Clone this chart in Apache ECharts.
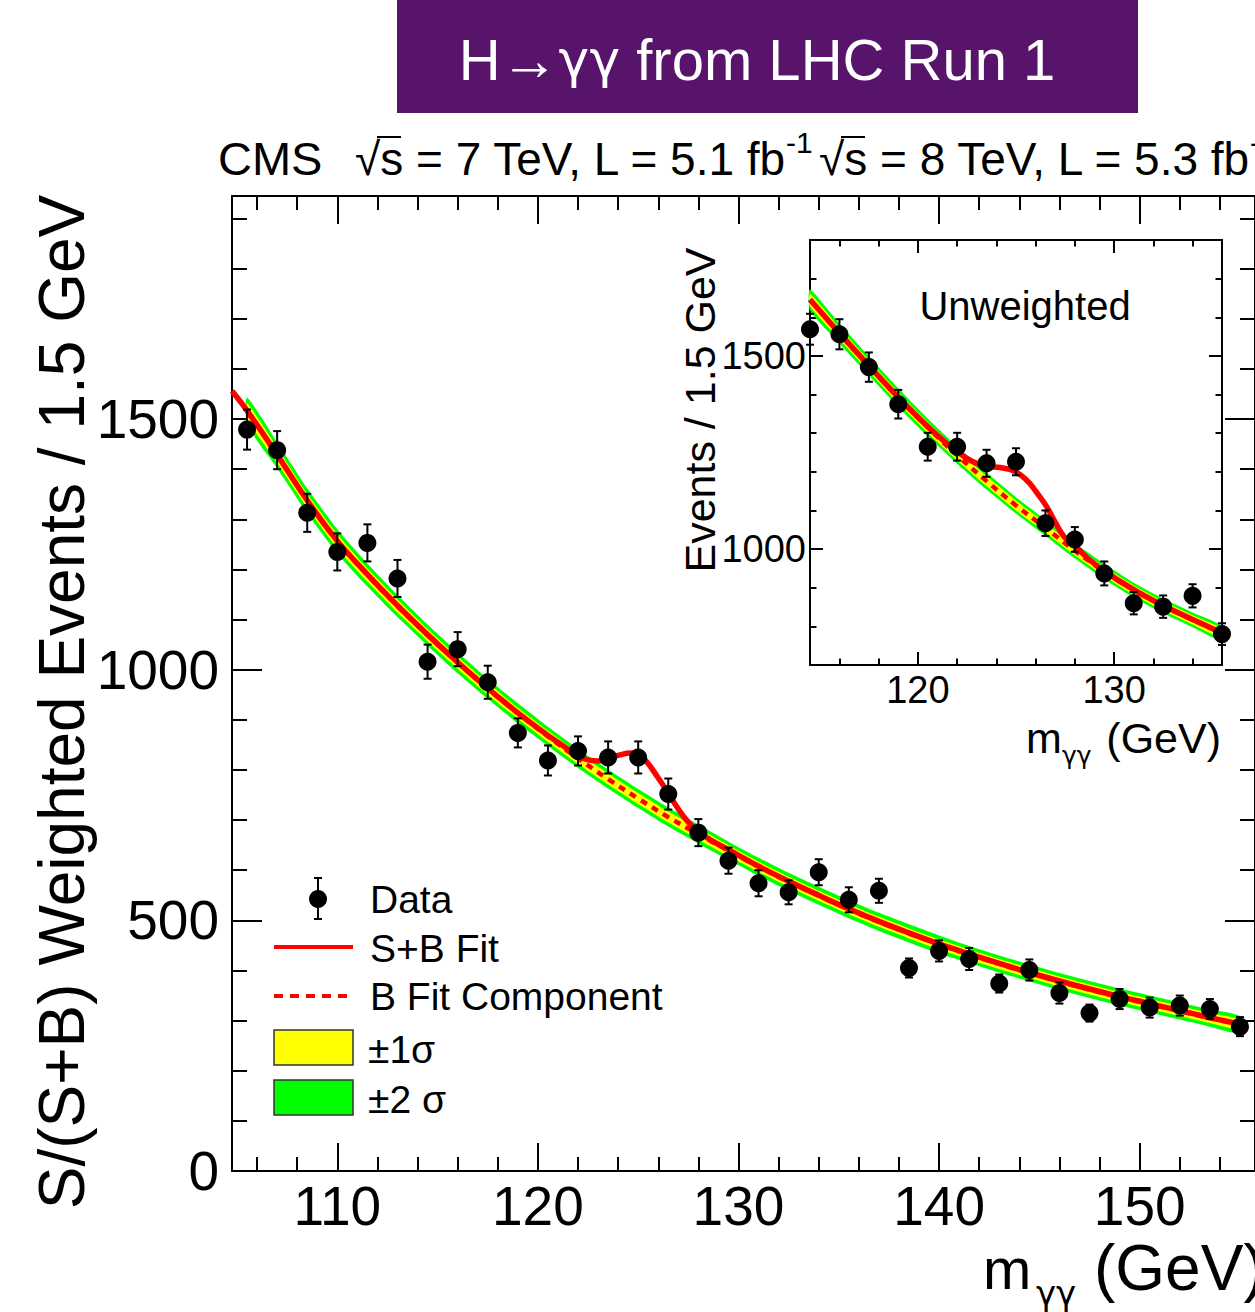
<!DOCTYPE html>
<html>
<head>
<meta charset="utf-8">
<script src="https://cdn.jsdelivr.net/npm/echarts@6/dist/echarts.min.js"></script>
<style>
html,body{margin:0;padding:0;background:#fff;overflow:hidden;}
#chart{width:1255px;height:1312px;}
</style>
</head>
<body>
<div id="chart"></div>
<script>
// ---------------- Main panel (S/(S+B) weighted) ----------------
const massBins = [105.5,107,108.5,110,111.5,113,114.5,116,117.5,119,120.5,122,123.5,125,126.5,128,129.5,131,132.5,134,135.5,137,138.5,140,141.5,143,144.5,146,147.5,149,150.5,152,153.5,155];
const weightedEvents = [1479,1438,1313,1235,1253,1182,1016,1041,975,874,819,838,825,825,752,675,619,574,556,596,541,559,405,439,423,374,401,355,315,343,326,330,323,288];
const weightedErrors = [40,38,38,37,37,37,34,34,33,29,30,29,32,32,31,27,26,26,24,26,25,24,19,21,22,18,21,21,17,20,20,20,20,19];
const bkgFit = [1516,1428,1337,1256,1189,1127,1069,1014,962,913,867,823,782,743,706,672,639,607,577,549,522,497,474,452,432,413,395,378,362,347,333,319,305,292];
const bkgSigma1 = [16,15,14,14,13,13,12,12,12,11,11,11,11,11,11,11,11,10,10,10,10,10,10,10,10,10,10,10,10,10,10,10,10,10];
const bkgSigma2 = [27,26,25,24,23,22,21,21,20,20,19,19,19,19,19,19,18,18,18,18,18,18,18,18,17,17,17,17,17,17,17,17,17,17];
const sbFitMass = [104.75,105.5,107,108.5,110,111.5,113,114.5,116,117.5,119,120.5,121.3,122,122.5,123,123.5,124.1,124.6,125,125.45,125.95,126.45,126.95,127.45,128,128.75,129.5,131,132.5,134,135.5,137,138.5,140,141.5,143,144.5,146,147.5,149,150.5,152,153.5,155];
const sbFitValues = [1556,1517,1429,1338,1257,1190,1128,1070,1015,963,914,869,847,828,820,818,823,830,834,832,815,787,757,725,698,677,657,641,608,578,550,523,498,475,453,433,414,396,379,363,348,334,320,306,293];

// ---------------- Inset (unweighted) ----------------
const insetBins = [114.5,116,117.5,119,120.5,122,123.5,125,126.5,128,129.5,131,132.5,134,135.5];
const unweightedEvents = [1569,1556,1471,1375,1265,1265,1222,1226,1067,1025,937,860,851,879,780];
const unweightedErrors = [40,39,38,37,36,36,35,35,33,32,31,29,29,30,28];
const insetBkgFit = [1645,1558,1474,1392,1315,1243,1176,1113,1055,996,942,894,853,817,782];
const insetSigma1 = [16,15,15,14,14,13,13,13,12,12,12,12,12,12,12];
const insetSigma2 = [27,26,25,24,23,22,22,21,21,20,20,19,19,19,19];
const insetSbMass = [114.5,116,117.5,119,120.5,121.5,122,122.5,123,123.5,124.2,124.7,125.24,125.7,126.09,126.56,126.94,127.45,128.05,128.64,129.5,131,132.5,134,135.5];
const insetSbValues = [1646,1559,1475,1393,1317,1272,1253,1235,1222,1215,1211,1206,1192,1170,1144,1110,1075,1032,1006,977,943,895,854,818,783];

// ---------------- Tick labels ----------------
const mainXTicks = [110,120,130,140,150];
const mainYTicks = [0,500,1000,1500];
const insetXTicks = [120,130];
const insetYTicks = [1000,1500];

const FONT = '"Liberation Sans", Arial, Helvetica, sans-serif';
const GREEK = '"DejaVu Sans", "Liberation Sans", sans-serif';

function zip(xs, ys) { return xs.map((x, i) => [x, ys[i]]); }
function errData(xs, ys, es) { return xs.map((x, i) => [x, ys[i], es[i]]); }

function bandSeries(xIdx, yIdx, xs, centre, sig, color, z) {
  return {
    type: 'custom', xAxisIndex: xIdx, yAxisIndex: yIdx, z: z, silent: true,
    data: [[xs[0], centre[0]]],
    encode: { x: 0, y: 1 },
    renderItem: function (params, api) {
      const up = xs.map((x, i) => api.coord([x, centre[i] + sig[i]]));
      const lo = xs.map((x, i) => api.coord([x, centre[i] - sig[i]])).reverse();
      return { type: 'polygon', shape: { points: up.concat(lo), smooth: 0.2 }, style: { fill: color, stroke: null } };
    }
  };
}

function errorSeries(xIdx, yIdx, data, cap, lw) {
  return {
    type: 'custom', xAxisIndex: xIdx, yAxisIndex: yIdx, z: 6, silent: true,
    data: data, encode: { x: 0, y: 1 },
    renderItem: function (params, api) {
      const x = api.value(0), y = api.value(1), e = api.value(2);
      const t = api.coord([x, y + e]), b = api.coord([x, y - e]);
      const st = { stroke: '#000', lineWidth: lw };
      return { type: 'group', children: [
        { type: 'line', shape: { x1: t[0], y1: t[1], x2: b[0], y2: b[1] }, style: st },
        { type: 'line', shape: { x1: t[0] - cap, y1: t[1], x2: t[0] + cap, y2: t[1] }, style: st },
        { type: 'line', shape: { x1: b[0] - cap, y1: b[1], x2: b[0] + cap, y2: b[1] }, style: st }
      ] };
    }
  };
}

function valueAxis(o) {
  return {
    type: 'value', gridIndex: o.grid, position: o.pos, min: o.min, max: o.max,
    minInterval: o.step, maxInterval: o.step, splitNumber: o.split,
    axisLine: { show: true, onZero: false, lineStyle: { color: '#000', width: 2 } },
    axisTick: { show: true, inside: true, length: o.tick, lineStyle: { color: '#000', width: 2 } },
    minorTick: { show: true, splitNumber: 5, length: o.minor, lineStyle: { color: '#000', width: 2 } },
    splitLine: { show: false }, minorSplitLine: { show: false },
    axisLabel: { show: !!o.labels, showMinLabel: !!o.showMin, showMaxLabel: false, margin: o.margin || 8,
      color: '#000', fontFamily: FONT, fontSize: o.fs || 12,
      formatter: function (v) { return o.labels && o.labels.indexOf(v) >= 0 ? String(v) : ''; } }
  };
}

function txt(x, y, text, size, extra) {
  const st = Object.assign({ text: text, fill: '#000', fontFamily: FONT, fontSize: size, align: 'left', verticalAlign: 'middle' }, extra || {});
  return { type: 'text', x: x, y: y, z: 10, style: st };
}

const chart = echarts.init(document.getElementById('chart'), null, { renderer: 'svg', width: 1255, height: 1312 });

const option = {
  backgroundColor: '#fff',
  animation: false,
  grid: [
    { left: 232, top: 196, width: 1030, height: 975, containLabel: false },
    { left: 810, top: 240, width: 412, height: 425, containLabel: false }
  ],
  xAxis: [
    valueAxis({ grid: 0, pos: 'bottom', min: 104.75, max: 155.75, step: 10, split: 5, tick: 28, minor: 14, labels: mainXTicks, fs: 55, margin: 7 }),
    valueAxis({ grid: 0, pos: 'top', min: 104.75, max: 155.75, step: 10, split: 5, tick: 28, minor: 14 }),
    valueAxis({ grid: 1, pos: 'bottom', min: 114.5, max: 135.5, step: 10, split: 2, tick: 13, minor: 6.5, labels: insetXTicks, fs: 38, margin: 6 }),
    valueAxis({ grid: 1, pos: 'top', min: 114.5, max: 135.5, step: 10, split: 2, tick: 13, minor: 6.5 })
  ],
  yAxis: [
    valueAxis({ grid: 0, pos: 'left', min: 0, max: 1945, step: 500, split: 4, tick: 30, minor: 15, labels: mainYTicks, fs: 55, margin: 13, showMin: true }),
    valueAxis({ grid: 0, pos: 'right', min: 0, max: 1945, step: 500, split: 4, tick: 30, minor: 15 }),
    valueAxis({ grid: 1, pos: 'left', min: 700, max: 1800, step: 500, split: 2, tick: 13, minor: 6.5, labels: insetYTicks, fs: 38, margin: 4 }),
    valueAxis({ grid: 1, pos: 'right', min: 700, max: 1800, step: 500, split: 2, tick: 13, minor: 6.5 })
  ],
  series: [
    // main panel
    bandSeries(0, 0, massBins, bkgFit, bkgSigma2, '#00ff00', 2),
    bandSeries(0, 0, massBins, bkgFit, bkgSigma1, '#ffff00', 3),
    { type: 'line', name: 'B Fit Component', xAxisIndex: 0, yAxisIndex: 0, z: 4, data: zip(massBins, bkgFit), smooth: 0.4, symbol: 'none', silent: true,
      lineStyle: { color: '#ff0000', width: 4.5, type: [7, 6] } },
    { type: 'line', name: 'S+B Fit', xAxisIndex: 0, yAxisIndex: 0, z: 5, data: zip(sbFitMass, sbFitValues), smooth: 0.4, symbol: 'none', silent: true,
      lineStyle: { color: '#ff0000', width: 5.5 } },
    errorSeries(0, 0, errData(massBins, weightedEvents, weightedErrors), 4, 2),
    { type: 'scatter', name: 'Data', xAxisIndex: 0, yAxisIndex: 0, z: 7, data: zip(massBins, weightedEvents), symbol: 'circle', symbolSize: 18,
      itemStyle: { color: '#000', opacity: 1 }, silent: true },
    // inset
    bandSeries(2, 2, insetBins, insetBkgFit, insetSigma2, '#00ff00', 2),
    bandSeries(2, 2, insetBins, insetBkgFit, insetSigma1, '#ffff00', 3),
    { type: 'line', xAxisIndex: 2, yAxisIndex: 2, z: 4, data: zip(insetBins, insetBkgFit), smooth: 0.4, symbol: 'none', silent: true,
      lineStyle: { color: '#ff0000', width: 4.5, type: [7, 6] } },
    { type: 'line', xAxisIndex: 2, yAxisIndex: 2, z: 5, data: zip(insetSbMass, insetSbValues), smooth: 0.4, symbol: 'none', silent: true,
      lineStyle: { color: '#ff0000', width: 5.5 } },
    errorSeries(2, 2, errData(insetBins, unweightedEvents, unweightedErrors), 4, 2),
    { type: 'scatter', xAxisIndex: 2, yAxisIndex: 2, z: 7, data: zip(insetBins, unweightedEvents), symbol: 'circle', symbolSize: 18,
      itemStyle: { color: '#000', opacity: 1 }, silent: true }
  ],
  graphic: { elements: [
    // title banner
    { type: 'rect', x: 397, y: 0, shape: { width: 741, height: 113 }, style: { fill: '#57146a' }, z: 10 },
    { type: 'text', x: 757, y: 59, z: 11, style: {
        text: '{a|H→}{g|γγ}{a| from LHC Run 1}', fill: '#fff', align: 'center', verticalAlign: 'middle',
        rich: { a: { fontFamily: FONT, fontSize: 58, fill: '#fff' }, g: { fontFamily: GREEK, fontSize: 52, fill: '#fff' } } } },
    // CMS header
    txt(218, 158, 'CMS', 47),
    txt(355, 159, '√s = 7 TeV, L = 5.1 fb', 46),
    { type: 'line', z: 10, shape: { x1: 377, y1: 137, x2: 401, y2: 137 }, style: { stroke: '#000', lineWidth: 2 } },
    txt(786, 142, '-1', 30),
    txt(819, 159, '√s = 8 TeV, L = 5.3 fb', 46),
    { type: 'line', z: 10, shape: { x1: 841, y1: 137, x2: 865, y2: 137 }, style: { stroke: '#000', lineWidth: 2 } },
    txt(1250, 142, '-1', 30),
    // main y title
    { type: 'text', x: 62, y: 702, rotation: Math.PI / 2, z: 10, style: { text: 'S/(S+B) Weighted Events / 1.5 GeV', fill: '#000', fontFamily: FONT, fontSize: 64, align: 'center', verticalAlign: 'middle' } },
    // main x title
    txt(983, 1268, 'm', 58),
    { type: 'text', x: 1036, y: 1293, z: 10, style: { text: 'γγ', fill: '#000', fontFamily: GREEK, fontSize: 34, align: 'left', verticalAlign: 'middle' } },
    txt(1094, 1268, '(GeV)', 64),
    // inset texts
    txt(1025, 306, 'Unweighted', 40, { align: 'center' }),
    { type: 'text', x: 700, y: 410, rotation: Math.PI / 2, z: 10, style: { text: 'Events / 1.5 GeV', fill: '#000', fontFamily: FONT, fontSize: 43, align: 'center', verticalAlign: 'middle' } },
    txt(1026, 738, 'm', 43),
    { type: 'text', x: 1062, y: 755, z: 10, style: { text: 'γγ', fill: '#000', fontFamily: GREEK, fontSize: 25, align: 'left', verticalAlign: 'middle' } },
    txt(1221, 738, '(GeV)', 43, { align: 'right' }),
    // legend
    { type: 'line', z: 10, shape: { x1: 318, y1: 878, x2: 318, y2: 919 }, style: { stroke: '#000', lineWidth: 2 } },
    { type: 'line', z: 10, shape: { x1: 314, y1: 878, x2: 322, y2: 878 }, style: { stroke: '#000', lineWidth: 2 } },
    { type: 'line', z: 10, shape: { x1: 314, y1: 919, x2: 322, y2: 919 }, style: { stroke: '#000', lineWidth: 2 } },
    { type: 'circle', z: 11, shape: { cx: 318, cy: 899, r: 9 }, style: { fill: '#000' } },
    txt(370, 899, 'Data', 39),
    { type: 'line', z: 10, shape: { x1: 274, y1: 947, x2: 353, y2: 947 }, style: { stroke: '#ff0000', lineWidth: 4 } },
    txt(370, 948, 'S+B Fit', 39),
    { type: 'line', z: 10, shape: { x1: 274, y1: 996, x2: 353, y2: 996 }, style: { stroke: '#ff0000', lineWidth: 4, lineDash: [9, 7] } },
    txt(370, 996, 'B Fit Component', 39),
    { type: 'rect', z: 10, x: 274, y: 1030, shape: { width: 79, height: 35 }, style: { fill: '#ffff00', stroke: '#333', lineWidth: 1.5 } },
    txt(368, 1049, '±1σ', 39),
    { type: 'rect', z: 10, x: 274, y: 1080, shape: { width: 79, height: 35 }, style: { fill: '#00ff00', stroke: '#333', lineWidth: 1.5 } },
    txt(368, 1099, '±2 σ', 39)
  ] }
};
chart.setOption(option);
</script>
</body>
</html>
